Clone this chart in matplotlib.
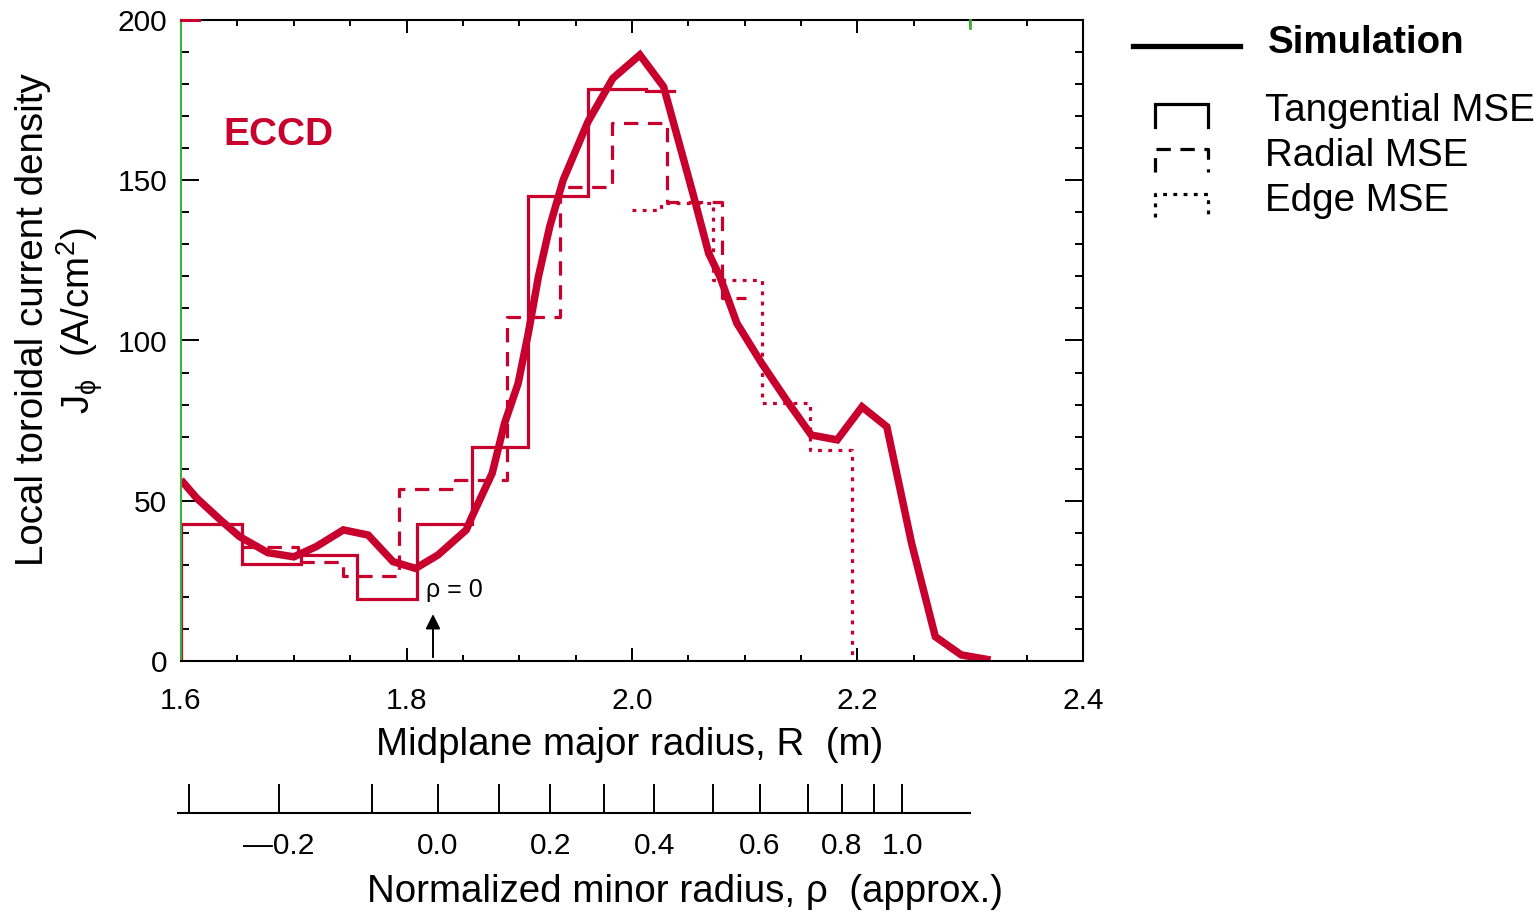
import matplotlib
matplotlib.use("Agg")
import matplotlib.pyplot as plt
from matplotlib.lines import Line2D

plt.rcParams['font.family'] = ['Liberation Sans', 'DejaVu Sans']
plt.rcParams['mathtext.fontset'] = 'custom'
plt.rcParams['mathtext.rm'] = 'Liberation Sans'
plt.rcParams['mathtext.it'] = 'Liberation Sans'

RED = '#C8002D'
GREEN = '#3CB034'

# Simulation curve: major radius R (m) vs J_phi (A/cm^2)
sim_R = [1.600, 1.614, 1.635, 1.652, 1.677, 1.700, 1.720, 1.744, 1.766, 1.788,
         1.808, 1.828, 1.853, 1.858, 1.876, 1.887, 1.899, 1.908, 1.917, 1.927,
         1.939, 1.961, 1.983, 2.007, 2.028, 2.041, 2.054, 2.068, 2.078, 2.093,
         2.115, 2.137, 2.159, 2.182, 2.204, 2.226, 2.248, 2.269, 2.292, 2.318]
sim_J = [56.5, 50.8, 44.0, 38.8, 33.8, 32.5, 35.7, 40.9, 39.3, 31.0,
         28.9, 33.1, 40.9, 45.0, 58.6, 74.2, 86.6, 102.2, 119.9, 135.5,
         150.1, 168.3, 181.8, 189.1, 179.2, 162.6, 145.9, 127.2, 119.9, 105.4,
         92.9, 81.4, 70.5, 69.0, 79.3, 73.1, 36.7, 7.6, 1.9, 0.3]

# MSE reconstructions (bin edges in R and level per bin)
tang_edges = [1.600, 1.654, 1.706, 1.756, 1.809, 1.858, 1.908, 1.961, 2.012, 2.037]
tang_J = [42.7, 30.3, 33.1, 19.2, 42.7, 66.9, 145.1, 178.4, 177.7]

rad_edges = [1.655, 1.704, 1.744, 1.793, 1.843, 1.889, 1.936, 1.982, 2.031, 2.080, 2.101]
rad_J = [35.7, 31.0, 26.5, 53.6, 56.5, 107.4, 148.0, 167.8, 143.3, 113.2]

edge_edges = [2.000, 2.026, 2.072, 2.115, 2.158, 2.195]
edge_J = [140.7, 142.8, 118.9, 80.4, 65.8]

# approximate rho scale mapped onto R
rho_vals = [-0.3, -0.2, -0.1, 0.0, 0.1, 0.2, 0.3, 0.4, 0.5, 0.6, 0.7, 0.8, 0.9, 1.0]
rho_R = [1.6069, 1.6867, 1.7692, 1.8278, 1.8820, 1.9277, 1.9748, 2.0199,
         2.0718, 2.1135, 2.1558, 2.1861, 2.2149, 2.2398]
rho_labels = ['', '\u20140.2', '', '0.0', '', '0.2', '', '0.4', '', '0.6', '', '0.8', '', '1.0']
rho0_R = 1.8235


def step_xy(edges, levels, close_left=False, close_right=False):
    xs, ys = [], []
    if close_left:
        xs.append(edges[0]); ys.append(0)
    for i, v in enumerate(levels):
        xs += [edges[i], edges[i + 1]]
        ys += [v, v]
    if close_right:
        xs.append(edges[-1]); ys.append(0)
    return xs, ys


fig = plt.figure(figsize=(15.38, 9.13), dpi=100)
ax = fig.add_axes([181 / 1538, 1 - 661 / 913, 902 / 1538, 641 / 913])

tx, ty = step_xy(tang_edges, tang_J, close_left=True)
ax.plot(tx, ty, color=RED, lw=2.3, solid_joinstyle='miter')
rx, ry = step_xy(rad_edges, rad_J)
ax.plot(rx, ry, color=RED, lw=2.3, linestyle=(0, (4.5, 3)))
ex, ey = step_xy(edge_edges, edge_J, close_right=True)
ax.plot(ex, ey, color=RED, lw=2.3, linestyle=(0, (1.2, 2)))
ax.plot(sim_R, sim_J, color=RED, lw=5.4, solid_joinstyle='miter', solid_capstyle='butt')

ax.text(1.638, 164, 'ECCD', color=RED, fontsize=28, fontweight='bold', va='center')

ax.annotate('', xy=(rho0_R, 15.5), xytext=(rho0_R, 0.3),
            arrowprops=dict(arrowstyle='-|>', color='k', lw=1.4, mutation_scale=22))
ax.text(rho0_R - 0.006, 22, '\u03c1 = 0', fontsize=18, va='center', ha='left')

# small coloured marks along the top edge
ax.plot([1.6, 1.616], [200, 200], color=RED, lw=2.2, clip_on=False, zorder=5)
ax.plot([2.3, 2.3], [200, 197.5], color=GREEN, lw=2, clip_on=False, zorder=5)

ax.set_xlim(1.6, 2.4)
ax.set_ylim(0, 200)
ax.set_xticks([1.6, 1.8, 2.0, 2.2, 2.4])
ax.set_xticks([1.6 + 0.05 * i for i in range(17)], minor=True)
ax.set_yticks([0, 50, 100, 150, 200])
ax.set_yticks(range(0, 201, 10), minor=True)
ax.tick_params(axis='x', which='major', direction='in', length=9.5, width=1.4,
               top=True, labelsize=21.5, pad=19)
ax.tick_params(axis='x', which='minor', direction='in', length=4.5, width=1.4, top=True)
ax.tick_params(axis='y', which='major', direction='in', length=13, width=1.4,
               right=True, labelsize=21.5, pad=10)
ax.tick_params(axis='y', which='minor', direction='in', length=5.8, width=1.4, right=True)
for s in ax.spines.values():
    s.set_linewidth(1.5)
ax.spines['left'].set_color(GREEN)

fig.text(630 / 1538, 1 - 745 / 913, 'Midplane major radius, R  (m)', fontsize=27.7,
         ha='center', va='center')
fig.text(33 / 1538, 1 - 320 / 913, 'Local toroidal current density', rotation=90,
         fontsize=27.7, ha='center', va='center')
fig.text(80 / 1538, 1 - 321 / 913, r'J$_\phi$  (A/cm$^{2}$)', rotation=90,
         fontsize=27.7, ha='center', va='center')

# rho scale below
ax2 = fig.add_axes([181 / 1538, 1 - 813 / 913, 902 / 1538, 0.001])
ax2.set_xlim(1.6, 2.4)
ax2.set_yticks([])
for k in ['left', 'right', 'top']:
    ax2.spines[k].set_visible(False)
ax2.spines['bottom'].set_bounds(1.597, 2.30)
ax2.spines['bottom'].set_linewidth(1.5)
ax2.patch.set_visible(False)
ax2.set_xticks(rho_R, rho_labels)
ax2.tick_params(axis='x', direction='in', length=21, width=1.4, labelsize=21.5, pad=14)
fig.text(685 / 1538, 1 - 892 / 913, 'Normalized minor radius, \u03c1  (approx.)',
         fontsize=27.7, ha='center', va='center')

# legend drawn in pixel coordinates
lg = fig.add_axes([0, 0, 1, 1])
lg.set_xlim(0, 1538)
lg.set_ylim(913, 0)
lg.axis('off')
lg.patch.set_visible(False)
lg.add_line(Line2D([1133, 1240], [46, 46], color='k', lw=3.8))
lg.text(1268, 43, 'Simulation', fontsize=27.7, fontweight='bold', va='center')
styles = ['-', (0, (4.5, 3)), (0, (1.2, 2))]
names = ['Tangential MSE', 'Radial MSE', 'Edge MSE']
for i, (st, nm) in enumerate(zip(styles, names)):
    y0 = 104 + 45 * i
    lg.add_line(Line2D([1155, 1155, 1208, 1208], [y0 + 23, y0, y0, y0 + 23],
                       color='k', lw=2.3, linestyle=st, solid_joinstyle='miter'))
    lg.text(1265, y0 + 7, nm, fontsize=27.7, va='center')

fig.savefig('out.png', dpi=100)
